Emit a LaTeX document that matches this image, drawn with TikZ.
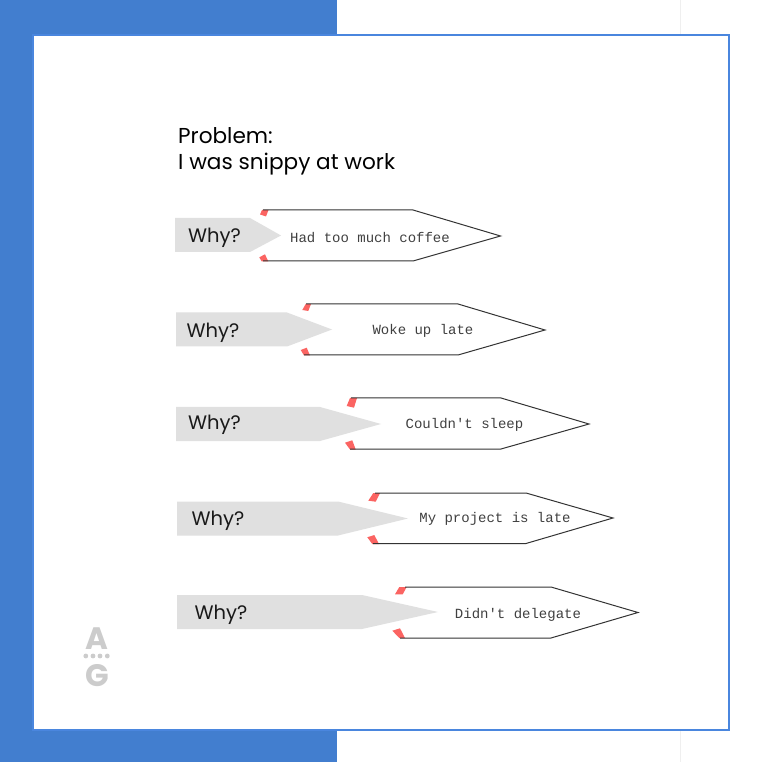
\documentclass[tikz,border=0pt]{standalone}
\usepackage{fontspec}
\setmainfont{Poppins}
\newfontfamily\monof{Liberation Mono}
\definecolor{agblue}{HTML}{427ECF}
\definecolor{agborder}{HTML}{4A86DE}
\definecolor{aggrey}{HTML}{E0E0E0}
\definecolor{agred}{HTML}{FB6462}
\definecolor{aglogo}{HTML}{CCCCCC}
\definecolor{agfaint}{HTML}{EFEFEF}
\tikzset{
  x=1pt,y=-1pt,
  greyarrow/.style={fill=aggrey,draw=none},
  outline/.style={draw=black!80,line width=1pt,line join=miter},
  redtick/.style={fill=agred,draw=none},
  whylabel/.style={inner sep=0pt,font=\fontsize{19.5}{22}\selectfont,text=black!90,anchor=center},
  monolabel/.style={inner sep=0pt,font=\monof\fontsize{14}{16}\selectfont,text=black!75,anchor=center},
  titlelabel/.style={inner sep=0pt,font=\fontsize{21.6}{26}\selectfont,text=black,anchor=base west},
  logolabel/.style={inner sep=0pt,font=\bfseries\fontsize{31}{31}\selectfont,text=aglogo,anchor=base}
}
\begin{document}
\begin{tikzpicture}
\useasboundingbox (0,0) rectangle (764,762);
\fill[white] (0,0) rectangle (764,762);
\draw[agfaint,line width=1pt] (680,0) -- (680,762);
\fill[agblue] (0,0) rectangle (337,762);
\filldraw[fill=white,draw=agborder,line width=1.1pt] (33,35) rectangle (729,730);

\node[titlelabel] (t1) at (178,144) {Problem:};
\node[titlelabel] (t2) at (178,170) {I was snippy at work};

% row 1
\fill[redtick] (262,210) -- (268.5,210) -- (266,216.5) -- (260,214.5) -- cycle;
\fill[redtick] (259.3,257.3) -- (265,254.3) -- (268.3,261.5) -- (261.7,261.5) -- cycle;
\draw[outline] (263,210) -- (413,210) -- (500.5,236) -- (413,261) -- (263,261);
\fill[greyarrow] (175,218) -- (250,218) -- (281,235.5) -- (250,252) -- (175,252) -- cycle;
\node[whylabel] (w1) at (214.5,238) {Why?};
\node[monolabel] (m1) at (370,237.5) {Had too much coffee};

% row 2
\fill[redtick] (302.3,310) -- (305.7,304) -- (311,304) -- (308.3,311) -- cycle;
\fill[redtick] (300.7,350) -- (306.7,347.7) -- (310,355.5) -- (304,355.5) -- cycle;
\draw[outline] (306,304) -- (458,304) -- (545,330) -- (458,355) -- (304,355);
\fill[greyarrow] (176,312.5) -- (287,312.5) -- (332,329.5) -- (287,346.5) -- (176,346.5) -- cycle;
\node[whylabel] (w2) at (213,333) {Why?};
\node[monolabel] (m2) at (423,331) {Woke up late};

% row 3
\fill[redtick] (346.7,406) -- (350,398) -- (357,398) -- (354,407.7) -- cycle;
\fill[redtick] (345,442.7) -- (352.3,440.3) -- (355.7,449.5) -- (350,449.5) -- cycle;
\draw[outline] (351,398) -- (501,398) -- (589,424) -- (501,449) -- (350,449);
\fill[greyarrow] (176,407) -- (320,407) -- (381,424) -- (320,441) -- (176,441) -- cycle;
\node[whylabel] (w3) at (214.5,425) {Why?};
\node[monolabel] (m3) at (464.5,425) {Couldn't sleep};

% row 4
\fill[redtick] (368.3,500.7) -- (373.3,493) -- (380,493) -- (375.7,501.7) -- cycle;
\fill[redtick] (367.3,537.3) -- (374.3,535) -- (379,544) -- (372.3,544) -- cycle;
\draw[outline] (375,493) -- (526,493) -- (613,518) -- (526,543.5) -- (373,543.5);
\fill[greyarrow] (177,501.5) -- (338,501.5) -- (408,518.5) -- (338,535.5) -- (177,535.5) -- cycle;
\node[whylabel] (w4) at (218,520.5) {Why?};
\node[monolabel] (m4) at (495,519) {My project is late};

% row 5
\fill[redtick] (395,594.3) -- (399.3,587) -- (406.7,587) -- (402.7,594.3) -- cycle;
\fill[redtick] (392.3,630.7) -- (400,628.3) -- (405,638) -- (399.3,638) -- cycle;
\draw[outline] (405,587) -- (551,587) -- (638,612.5) -- (551,638) -- (400,638);
\fill[greyarrow] (177,595) -- (362,595) -- (438,612) -- (362,629) -- (177,629) -- cycle;
\node[whylabel] (w5) at (221,615) {Why?};
\node[monolabel] (m5) at (518,615) {Didn't delegate};

% logo
\node[logolabel] (la) at (97,649.5) {A};
\node[logolabel] (lg) at (97,686.5) {G};
\foreach \px in {85.8,93,100,107.3} \fill[aglogo] (\px,656) circle (2.4pt);
\end{tikzpicture}
\end{document}
